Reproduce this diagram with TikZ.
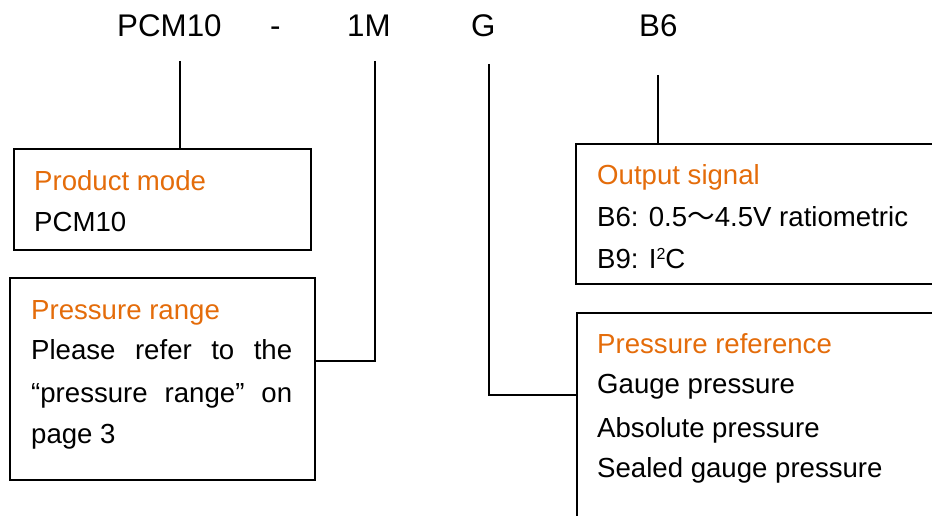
\documentclass[tikz,border=0pt]{standalone}
\usepackage{fontspec}
\setmainfont{Liberation Sans}
\newfontfamily\cjk{Noto Sans CJK SC}
\definecolor{orng}{RGB}{228,108,10}
\begin{document}
\begin{tikzpicture}[x=1pt,y=-1pt,
  lbl/.style={inner sep=0, anchor=base west, font=\fontsize{31.3}{36}\selectfont},
  txt/.style={inner sep=0, anchor=base west, font=\fontsize{27.6}{32}\selectfont},
  hd/.style={txt, text=orng},
  box/.style={draw, line width=1.6pt, inner sep=0, anchor=north west},
  conn/.style={line width=1.4pt}]
\useasboundingbox (0,0) rectangle (932,516);
\clip (0,0) rectangle (932,516);
% top code labels
\node[lbl] (lpcm) at (117,37) {PCM10};
\node[lbl] (ldash) at (270,37) {-};
\node[lbl] (l1m) at (347,37) {1M};
\node[lbl] (lg) at (471,37) {G};
\node[lbl] (lb6) at (639,37) {B6};
% boxes
\node[box, minimum width=297pt, minimum height=101pt] (pm) at (13,148) {};
\node[box, minimum width=305pt, minimum height=202pt] (pr) at (9,277) {};
\node[box, minimum width=400pt, minimum height=140pt] (os) at (575,143) {};
\node[box, minimum width=400pt, minimum height=250pt] (pref) at (576,312) {};
% box texts
\node[hd] (pmh) at (34,190) {Product mode};
\node[txt] (pmt) at (34,231) {PCM10};
\node[hd] (prh) at (31,319) {Pressure range};
\node[txt] (prt1) at (31,359) {\makebox[261pt][s]{Please refer to the}};
\node[txt] (prt2) at (31,402) {\makebox[261pt][s]{“pressure range” on}};
\node[txt] (prt3) at (31,443) {page 3};
\node[hd] (osh) at (597,184) {Output signal};
\node[txt] (ost1) at (597,226) {B6: 0.5{\cjk ～}4.5V ratiometric};
\node[txt] (ost2) at (597,268) {B9: I\raisebox{9pt}{\fontsize{16}{16}\selectfont 2}C};
\node[hd] (prefh) at (597,353) {Pressure reference};
\node[txt] (preft1) at (597,393) {Gauge pressure};
\node[txt] (preft2) at (597,437) {Absolute pressure};
\node[txt] (preft3) at (597,477) {Sealed gauge pressure};
% connectors
\coordinate (c1) at (180,61);
\coordinate (c2) at (375,61);
\coordinate (k2) at (375,361);
\coordinate (c3) at (489,64);
\coordinate (k3) at (489,395);
\coordinate (c4) at (658,75);
\draw[conn] (c1) -- (c1 |- pm.north);
\draw[conn] (c2) -- (k2) -- (k2 -| pr.east);
\draw[conn] (c3) -- (k3) -- (k3 -| pref.west);
\draw[conn] (c4) -- (c4 |- os.north);
\end{tikzpicture}
\end{document}
